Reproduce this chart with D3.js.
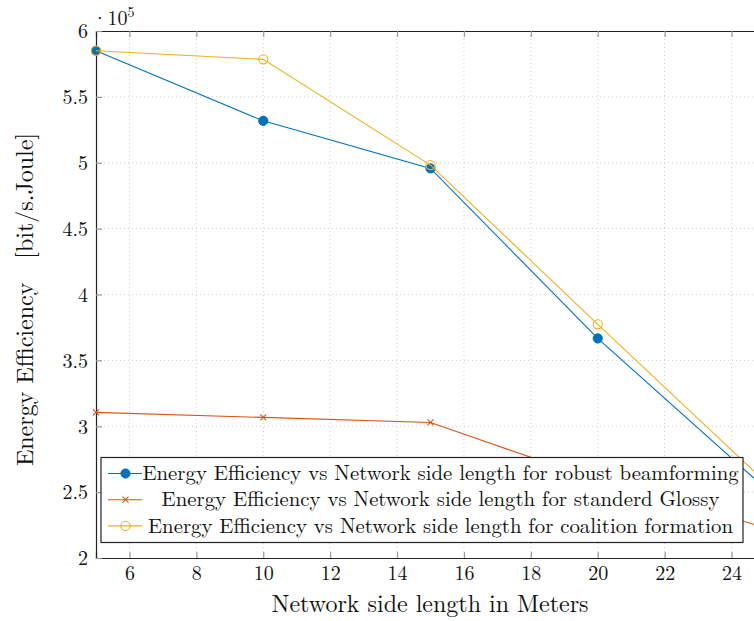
<!DOCTYPE html>
<html>
<head>
<meta charset="utf-8">
<script src="https://cdn.jsdelivr.net/npm/d3@7"></script>
<style>
  body { margin: 0; background: #fff; }
  svg { display: block; }
  svg text { font-family: "Latin Modern Roman", "CMU Serif", "Liberation Serif", "Times New Roman", serif; fill: #111; }
</style>
</head>
<body>
<div id="chart"></div>
<script>
// network side length (m)
var sideLength = [5, 10, 15, 20, 25];
// energy efficiency [bit/s.Joule]
var robustBeamforming = [585000, 531800, 495700, 366700, 253000];
var standardGlossy    = [310500, 306700, 302900, 258800, 223300];
var coalitionForm     = [585000, 578500, 498200, 377400, 258000];

var xTicks = [6, 8, 10, 12, 14, 16, 18, 20, 22, 24];
var yTicks = [200000, 250000, 300000, 350000, 400000, 450000, 500000, 550000, 600000];

var seriesNames = [
  "Energy Efficiency vs Network side length for robust beamforming",
  "Energy Efficiency vs Network side length for standerd Glossy",
  "Energy Efficiency vs Network side length for coalition formation"
];
var seriesColors = ["#0072BD", "#D95319", "#EDB120"];
var seriesMarkers = ["dot", "cross", "ring"];

var W = 754, H = 621;
var margin = {top: 31, left: 96, bottom: 558};
var plotRight = 765; // plot runs past the picture edge

var svg = d3.select("#chart").append("svg")
    .attr("width", W)
    .attr("height", H);

var x = d3.scaleLinear().domain([5, 25]).range([margin.left, plotRight]);
var y = d3.scaleLinear().domain([200000, 600000]).range([margin.bottom, margin.top]);

// grid
var grid = svg.append("g").attr("class", "grid");
grid.selectAll("line.gx").data(xTicks).enter().append("line")
    .attr("x1", function(d){ return x(d); }).attr("x2", function(d){ return x(d); })
    .attr("y1", margin.top).attr("y2", margin.bottom)
    .style("stroke", "#cfcfcf").style("stroke-width", 1).style("stroke-dasharray", "1,3");
grid.selectAll("line.gy").data(yTicks.slice(1, -1)).enter().append("line")
    .attr("x1", margin.left).attr("x2", plotRight)
    .attr("y1", function(d){ return y(d); }).attr("y2", function(d){ return y(d); })
    .style("stroke", "#cfcfcf").style("stroke-width", 1).style("stroke-dasharray", "1,3");

// axes, ticks pointing inwards
var xAxis = d3.axisBottom(x).tickValues(xTicks).tickSize(-6).tickPadding(8);
var xAxisTop = d3.axisTop(x).tickValues(xTicks).tickSize(-6).tickFormat("");
var yAxis = d3.axisLeft(y).tickValues(yTicks).tickSize(-6).tickPadding(8)
    .tickFormat(function(d){ return d3.format("~g")(d / 1e5); });

var gx = svg.append("g").attr("transform", "translate(0," + margin.bottom + ")").call(xAxis);
var gxt = svg.append("g").attr("transform", "translate(0," + margin.top + ")").call(xAxisTop);
var gy = svg.append("g").attr("transform", "translate(" + margin.left + ",0)").call(yAxis);

[gx, gxt, gy].forEach(function(g){
  g.attr("font-family", null).attr("font-size", null);
  g.select(".domain").style("stroke", "#222").style("stroke-width", 1.2);
  g.selectAll(".tick line").style("stroke", "#999").style("stroke-width", 1.2);
  g.selectAll(".tick text").style("font-size", "20px").style("fill", "#111");
});
gx.selectAll(".tick text").attr("dy", "0.71em");
gy.selectAll(".tick text").attr("dy", "0.34em");

// multiplier label
var mult = svg.append("text").attr("x", 92).attr("y", 25)
    .style("font-size", "20px");
mult.append("tspan").text("\u00b710");
mult.append("tspan").attr("dy", -8).style("font-size", "14px").text("5");

// axis titles
svg.append("text")
    .attr("x", 430).attr("y", 612)
    .attr("text-anchor", "middle")
    .style("font-size", "24px")
    .text("Network side length in Meters");

svg.append("text")
    .attr("transform", "translate(33,299.5) rotate(-90)")
    .attr("text-anchor", "middle")
    .attr("xml:space", "preserve")
    .style("white-space", "pre")
    .style("font-size", "24px")
    .text("Energy Efficiency   [bit/s.Joule]");

// series
var allSeries = [robustBeamforming, standardGlossy, coalitionForm].map(function(vals, k){
  return {
    name: seriesNames[k], color: seriesColors[k], marker: seriesMarkers[k],
    points: vals.map(function(v, i){ return {x: sideLength[i], y: v}; })
  };
});

var line = d3.line().x(function(d){ return x(d.x); }).y(function(d){ return y(d.y); });

function drawMarker(sel, kind, color) {
  if (kind === "dot") {
    sel.append("circle").attr("r", 4.6).style("fill", color).style("stroke", color);
  } else if (kind === "ring") {
    sel.append("circle").attr("r", 4.6).style("fill", "none").style("stroke", color).style("stroke-width", 1.1);
  } else {
    sel.append("path").attr("d", "M-3,-3L3,3M-3,3L3,-3").style("stroke", color).style("stroke-width", 1.1);
  }
}

var layers = svg.selectAll("g.series").data(allSeries).enter().append("g").attr("class", "series");
layers.append("path")
    .attr("d", function(d){ return line(d.points); })
    .style("fill", "none")
    .style("stroke", function(d){ return d.color; })
    .style("stroke-width", 1.1);
layers.each(function(s){
  d3.select(this).selectAll("g.pt").data(s.points).enter().append("g")
    .attr("class", "pt")
    .attr("transform", function(d){ return "translate(" + x(d.x) + "," + y(d.y) + ")"; })
    .each(function(){ drawMarker(d3.select(this), s.marker, s.color); });
});

// legend
var lg = svg.append("g").attr("class", "legend");
lg.append("rect")
    .attr("x", 101).attr("y", 457.5).attr("width", 642).attr("height", 85)
    .style("fill", "#fff").style("stroke", "#222").style("stroke-width", 1.2);

var rows = lg.selectAll("g.row").data(allSeries).enter().append("g")
    .attr("class", "row")
    .attr("transform", function(d, i){ return "translate(0," + (473.5 + i * 26.2) + ")"; });
rows.append("line")
    .attr("x1", 108).attr("x2", 142).attr("y1", 0).attr("y2", 0)
    .style("stroke", function(d){ return d.color; }).style("stroke-width", 1.1);
rows.each(function(d){
  var g = d3.select(this).append("g").attr("transform", "translate(125.5,0)");
  drawMarker(g, d.marker, d.color);
});
rows.append("text")
    .attr("x", 440.5).attr("y", 0).attr("dy", "0.32em")
    .attr("text-anchor", "middle")
    .style("font-size", "20.8px")
    .text(function(d){ return d.name; });
</script>
</body>
</html>
